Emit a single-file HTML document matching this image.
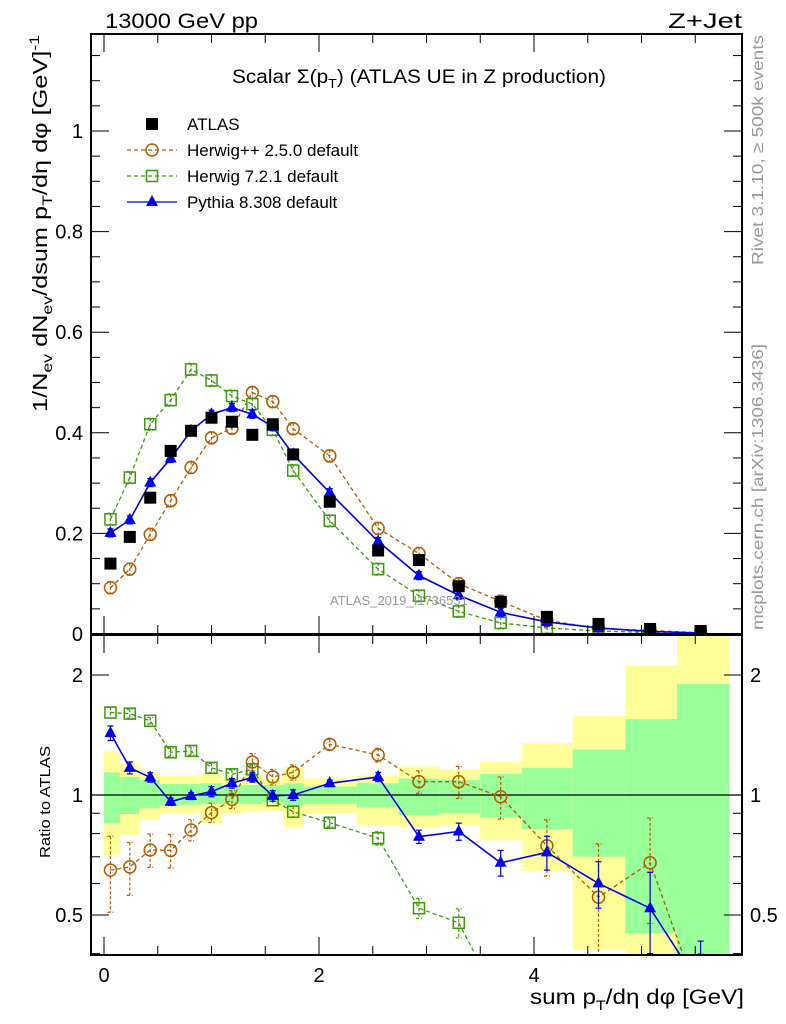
<!DOCTYPE html>
<html><head><meta charset="utf-8"><style>
html,body{margin:0;padding:0;background:#fff;width:786px;height:1024px;overflow:hidden}
svg{display:block;font-family:"Liberation Sans",sans-serif}
</style></head><body>
<svg id="c" width="786" height="1024" viewBox="0 0 786 1024" xmlns="http://www.w3.org/2000/svg">
<g id="bands"></g>
<g id="marks"></g>
<g id="axes"></g>
<text x="105" y="28" font-size="21" textLength="153" lengthAdjust="spacingAndGlyphs">13000 GeV pp</text>
<text x="668" y="28" font-size="21" textLength="74" lengthAdjust="spacingAndGlyphs">Z+Jet</text>
<text x="232" y="83" font-size="19" textLength="374" lengthAdjust="spacingAndGlyphs">Scalar Σ(p<tspan font-size="13" dy="5">T</tspan><tspan dy="-5">) (ATLAS UE in Z production)</tspan></text>
<text x="330" y="605" font-size="13" fill="#999">ATLAS_2019_I1736531</text>
<text transform="translate(763,265) rotate(-90)" font-size="16" fill="#999" textLength="230" lengthAdjust="spacingAndGlyphs">Rivet 3.1.10, ≥ 500k events</text>
<text transform="translate(763,630) rotate(-90)" font-size="16" fill="#999" textLength="286" lengthAdjust="spacingAndGlyphs">mcplots.cern.ch [arXiv:1306.3436]</text>
<text transform="translate(47,412) rotate(-90)" font-size="20" textLength="377" lengthAdjust="spacingAndGlyphs">1/N<tspan font-size="14" dy="5">ev</tspan><tspan dy="-5"> dN</tspan><tspan font-size="14" dy="5">ev</tspan><tspan dy="-5">/dsum p</tspan><tspan font-size="14" dy="5">T</tspan><tspan dy="-5">/dη dφ  [GeV]</tspan><tspan font-size="14" dy="-8">-1</tspan></text>
<text transform="translate(50,858) rotate(-90)" font-size="15" textLength="112" lengthAdjust="spacingAndGlyphs">Ratio to ATLAS</text>
<text x="530" y="1004" font-size="21" textLength="214" lengthAdjust="spacingAndGlyphs">sum p<tspan font-size="14" dy="6">T</tspan><tspan dy="-6">/dη dφ [GeV]</tspan></text>
<g id="legend"></g>
</svg>
<script>
const xs=[0.06,0.24,0.43,0.62,0.81,1.0,1.19,1.38,1.57,1.76,2.1,2.55,2.93,3.3,3.69,4.12,4.6,5.08,5.55];
const edges=[0,0.15,0.33,0.52,0.71,0.9,1.1,1.29,1.48,1.67,1.86,2.35,2.74,3.12,3.5,3.89,4.36,4.85,5.33,5.82];
const atlas=[0.14,0.193,0.271,0.364,0.404,0.43,0.422,0.396,0.417,0.357,0.263,0.166,0.147,0.095,0.064,0.034,0.02,0.01,0.006];
const pythia=[0.201,0.227,0.301,0.349,0.404,0.437,0.45,0.437,0.412,0.357,0.281,0.184,0.116,0.077,0.043,0.024,0.012,0.005,0.002];
const herwig7=[0.228,0.311,0.417,0.465,0.526,0.504,0.473,0.457,0.406,0.325,0.225,0.129,0.076,0.045,0.022,0.012,0.006,0.003,0.0015];
const herwigpp=[0.092,0.129,0.198,0.265,0.331,0.39,0.409,0.48,0.462,0.408,0.354,0.21,0.16,0.1,0.065,0.027,0.011,0.007,0.0025];
const rPythia=[1.43,1.17,1.107,0.962,0.994,1.02,1.07,1.107,0.995,1.0,1.07,1.11,0.786,0.81,0.676,0.718,0.60,0.52,0.33];
const rHerwig7=[1.61,1.6,1.535,1.28,1.29,1.17,1.127,1.16,0.97,0.908,0.852,0.779,0.52,0.478,0.3,0.25,0.2,0.15,0.1];
const rHerwigpp=[0.648,0.66,0.728,0.726,0.817,0.903,0.975,1.21,1.11,1.14,1.34,1.26,1.08,1.08,0.99,0.746,0.554,0.676,0.3];
const rErrP=[0.06,0.04,0.03,0.02,0.02,0.03,0.03,0.03,0.03,0.03,0.02,0.03,0.03,0.04,0.05,0.07,0.08,0.12,0.1];
const rErrH=[0.14,0.1,0.07,0.07,0.05,0.05,0.05,0.06,0.05,0.05,0.04,0.05,0.07,0.1,0.12,0.12,0.2,0.2,0.1];
const rErrG=[0.05,0.04,0.03,0.03,0.03,0.03,0.03,0.03,0.03,0.03,0.02,0.03,0.03,0.04,0.05,0.05,0.05,0.05,0.05];
const yelHi=[1.29,1.2,1.13,1.12,1.12,1.13,1.1,1.12,1.1,1.175,1.1,1.12,1.18,1.16,1.21,1.35,1.58,2.11,3];
const yelLo=[0.707,0.794,0.866,0.9,0.9,0.85,0.9,0.91,0.91,0.83,0.9,0.84,0.83,0.84,0.77,0.645,0.41,0.3,0.3];
const grnHi=[1.14,1.11,1.09,1.065,1.065,1.07,1.06,1.06,1.06,1.07,1.05,1.07,1.1,1.09,1.13,1.17,1.3,1.55,1.9];
const grnLo=[0.85,0.896,0.926,0.94,0.945,0.95,0.95,0.95,0.96,0.94,0.95,0.93,0.89,0.9,0.88,0.82,0.7,0.45,0.3];
const yTicksMain=[0,0.2,0.4,0.6,0.8,1];
const yTickLabelsMain=["0","0.2","0.4","0.6","0.8","1"];
const xTickLabels=["0","2","4"];

const L=91,R=742,MT=34,MB=634,RT=635,RB=955;
const X=v=>104+107.5*v, Y=v=>634-503*v, YR=r=>795-120*Math.log2(r);
const NS="http://www.w3.org/2000/svg";
function mk(parent,tag,at){const e=document.createElementNS(NS,tag);for(const k in at)e.setAttribute(k,at[k]);document.getElementById(parent).appendChild(e);return e;}
const cl=v=>Math.max(RT,Math.min(RB,v));
for(let i=0;i<yelHi.length;i++){
  const x0=X(edges[i]),x1=Math.min(X(edges[i+1]),R);
  let e=mk('bands','rect',{x:x0,y:cl(YR(yelHi[i])),width:x1-x0,height:cl(YR(yelLo[i]))-cl(YR(yelHi[i])),fill:'#ffff99'});
  
  
  e=mk('bands','rect',{x:x0,y:cl(YR(grnHi[i])),width:x1-x0,height:cl(YR(grnLo[i]))-cl(YR(grnHi[i])),fill:'#99ff99'});
  
  
}
const defs=mk('marks','defs',{});
const cp1=document.createElementNS(NS,'clipPath');cp1.setAttribute('id','cm');defs.appendChild(cp1);
const r1=document.createElementNS(NS,'rect');r1.setAttribute('x',L);r1.setAttribute('y',MT);r1.setAttribute('width',R-L);r1.setAttribute('height',MB-MT);cp1.appendChild(r1);
const cp2=document.createElementNS(NS,'clipPath');cp2.setAttribute('id','cr');defs.appendChild(cp2);
const r2=document.createElementNS(NS,'rect');r2.setAttribute('x',L);r2.setAttribute('y',RT);r2.setAttribute('width',R-L);r2.setAttribute('height',RB-RT);cp2.appendChild(r2);
const gm=mk('marks','g',{'clip-path':'url(#cm)'});gm.id='gm';
const gr=mk('marks','g',{'clip-path':'url(#cr)'});gr.id='gr';
mk('gr','line',{x1:L,x2:R,y1:YR(1),y2:YR(1),stroke:'#000','stroke-width':1.2});
function marker(g,kind,x,y,col,name){
  let e;
  if(kind==='sq') e=mk(g,'rect',{x:x-6,y:y-6,width:12,height:12,fill:'#000'});
  else if(kind==='osq') e=mk(g,'rect',{x:x-5.5,y:y-5.5,width:11,height:11,fill:'none',stroke:col,'stroke-width':1.5});
  else if(kind==='circ') e=mk(g,'circle',{cx:x,cy:y,r:6,fill:'none',stroke:col,'stroke-width':1.5});
  else e=mk(g,'path',{d:`M${x},${y-7}L${x+6},${y+4}L${x-6},${y+4}Z`,fill:col});
  
  
}
function series(g,xv,yv,err,col,dash,kind,name){
  const pts=xv.map((x,i)=>X(x)+','+yv(i)).join(' ');
  const pl=mk(g,'polyline',{points:pts,fill:'none',stroke:col,'stroke-width':dash?1.3:1.6,'stroke-dasharray':dash?'4,3':'none'});
  
  
  xv.forEach((x,i)=>{
    if(err){const [a,b]=err(i);mk(g,'path',{d:`M${X(x)},${a}V${b}M${X(x)-3},${a}h6M${X(x)-3},${b}h6`,stroke:col,'stroke-width':1.2,'stroke-dasharray':dash?'3,2':'none',fill:'none'});}
    marker(g,kind,X(x),yv(i),col,name+'-point');
  });
}
const me=0.012;
series('gm',xs,i=>Y(herwigpp[i]),i=>[Y(herwigpp[i]+me),Y(herwigpp[i]-me)],'#b35a00',true,'circ','herwigpp');
series('gm',xs,i=>Y(herwig7[i]),i=>[Y(herwig7[i]+me),Y(herwig7[i]-me)],'#3c9a0a',true,'osq','herwig7');
series('gm',xs,i=>Y(pythia[i]),i=>[Y(pythia[i]+0.008),Y(pythia[i]-0.008)],'#0000ee',false,'tri','pythia');
xs.forEach((x,i)=>marker('gm','sq',X(x),Y(atlas[i]),'#000','atlas-point'));
series('gr',xs,i=>YR(rHerwigpp[i]),i=>[YR(rHerwigpp[i]+rErrH[i]),YR(rHerwigpp[i]-rErrH[i])],'#b35a00',true,'circ','herwigpp-ratio');
series('gr',xs,i=>YR(rHerwig7[i]),i=>[YR(rHerwig7[i]+rErrG[i]),YR(rHerwig7[i]-rErrG[i])],'#3c9a0a',true,'osq','herwig7-ratio');
series('gr',xs,i=>YR(rPythia[i]),i=>[YR(rPythia[i]+rErrP[i]),YR(rPythia[i]-rErrP[i])],'#0000ee',false,'tri','pythia-ratio');
function ln(x1,y1,x2,y2,w){mk('axes','line',{x1,y1,x2,y2,stroke:'#000','stroke-width':w||1});}
function tx(x,y,s,anc,fs,name){const e=mk('axes','text',{x,y,'font-size':fs||20,'text-anchor':anc||'middle'});e.textContent=s;}
mk('axes','rect',{x:L,y:MT,width:R-L,height:MB-MT,fill:'none',stroke:'#000','stroke-width':2});
mk('axes','rect',{x:L,y:RT,width:R-L,height:RB-RT,fill:'none',stroke:'#000','stroke-width':2});
for(let v=0;v<=1.19;v+=0.05){const y=Y(v),maj=Math.abs(v*5-Math.round(v*5))<1e-6;const l=maj?18:9;ln(L,y,L+l,y);ln(R,y,R-l,y);}
yTicksMain.forEach((v,i)=>tx(L-8,Y(v)+7,yTickLabelsMain[i],'end',20,'y-tick-label'));
for(let v=0;v<=5.8;v+=0.5){const x=X(v),maj=v%2===0,l=maj?18:9;ln(x,MB,x,MB-l);ln(x,MT,x,MT+l);ln(x,RB,x,RB-l);ln(x,RT,x,RT+l);}
xTickLabels.forEach((s,i)=>tx(X(i*2),982,s,'middle',20,'x-tick-label'));
[0.4,0.5,0.6,0.7,0.8,0.9,1,2].forEach(r=>{const y=YR(r),maj=(r===0.5||r===1||r===2),l=maj?18:9;ln(L,y,L+l,y);ln(R,y,R-l,y);});
[["2",2],["1",1],["0.5",0.5]].forEach(([s,r])=>{tx(L-8,YR(r)+7,s,'end',20,'ratio-tick-label');tx(R+8,YR(r)+7,s,'start',20,'ratio-tick-label-right');});
const leg=[["ATLAS","sq","#000",false],["Herwig++ 2.5.0 default","circ","#b35a00",true],["Herwig 7.2.1 default","osq","#3c9a0a",true],["Pythia 8.308 default","tri","#0000ee",false]];
leg.forEach(([t,k,c,d],i)=>{const y=124+i*26;
  if(i>0){mk('legend','line',{x1:127,x2:177,y1:y,y2:y,stroke:c,'stroke-width':1.3,'stroke-dasharray':d?'4,3':'none'});}
  marker('legend',k,152,y,c,'legend-marker');
  const e=mk('legend','text',{x:187,y:y+6,'font-size':17});e.textContent=t;
  
  
});
</script>
</body></html>
